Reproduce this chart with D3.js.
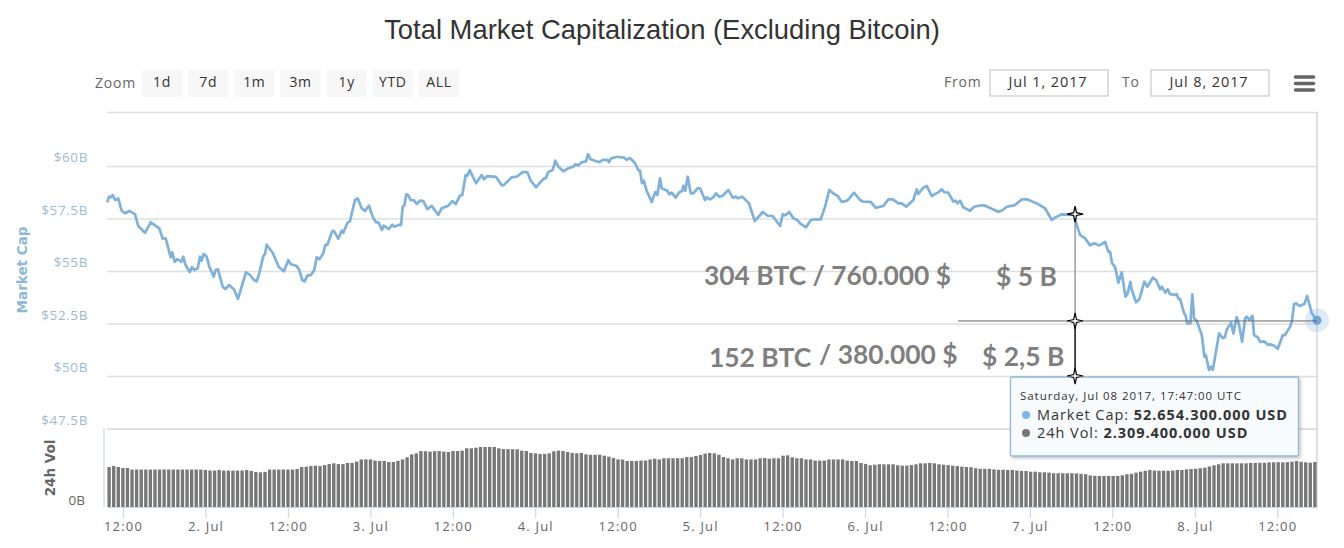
<!DOCTYPE html>
<html>
<head>
<meta charset="utf-8">
<title>Total Market Capitalization (Excluding Bitcoin)</title>
<script src="https://cdn.jsdelivr.net/npm/d3@7"></script>
<style>
  html, body { margin: 0; padding: 0; background: #fff; }
  svg { display: block; }
  text { font-family: "Open Sans", sans-serif; }
  .grid line { stroke: #dfdfdf; stroke-width: 1.3; }
  .grid text { fill: #9dbbd0; font-size: 13.5px; letter-spacing: 0.6px; }
  .xaxis line { stroke: #ccd6eb; stroke-width: 1.2; }
  .xaxis path { stroke: #ccd6eb; stroke-width: 1.2; }
  .xaxis text { fill: #666; font-size: 13px; letter-spacing: 1.2px; }
  .ctrl { fill: #666; font-size: 14px; letter-spacing: 0.8px; }
  .btn { fill: #333; font-size: 14px; letter-spacing: 0.6px; text-anchor: middle; }
  .date { fill: #333; font-size: 14.5px; letter-spacing: 0.9px; text-anchor: middle; }
  .note { fill: #7f7f7f; font-family: Lato, sans-serif; font-weight: 700; font-size: 26.4px; }
  .tip { fill: #333; font-size: 14.5px; letter-spacing: 0.95px; }
</style>
</head>
<body>
<svg id="chart" width="1344" height="548"></svg>
<script>
// hours counted from 1 Jul 2017 00:00 UTC
const capHours = [
  9.71, 9.96, 10.20, 10.49, 10.87, 11.31, 11.80, 12.29, 12.91, 13.74,
  14.22, 15.20, 16.03, 17.28, 17.77, 18.21, 18.94, 19.17, 19.52, 19.90,
  20.48, 20.77, 21.06, 21.70, 22.04, 22.37, 22.87, 23.20, 23.45, 23.74,
  24.18, 24.56, 25.20, 25.49, 25.82, 26.51, 26.89, 27.47, 28.20, 28.73,
  29.90, 30.48, 31.06, 31.46, 31.83, 32.42, 32.66, 32.91, 33.78, 34.70,
  35.43, 36.06, 36.40, 37.28, 37.66, 38.09, 38.44, 38.82, 39.32, 39.84,
  40.19, 40.57, 41.15, 41.44, 41.73, 42.46, 42.71, 43.33, 43.83, 44.06,
  44.64, 45.04, 45.76, 46.16, 46.74, 47.22, 47.80, 48.34, 48.82, 49.21,
  49.69, 49.94, 50.67, 51.19, 51.48, 52.31, 52.46, 52.71, 52.94, 53.23,
  53.48, 53.87, 54.35, 54.75, 55.23, 55.71, 56.29, 56.93, 57.89, 58.38,
  59.34, 59.93, 60.42, 61.05, 61.38, 61.88, 62.11, 62.46, 63.38, 64.21,
  64.54, 65.02, 66.29, 67.12, 67.45, 68.57, 69.30, 70.17, 70.84, 71.34,
  72.11, 73.27, 73.52, 73.90, 74.54, 74.92, 75.36, 76.08, 76.81, 77.54,
  77.83, 78.27, 78.76, 79.39, 79.68, 80.07, 81.32, 81.82, 82.49, 82.74,
  82.98, 83.86, 84.92, 85.31, 85.79, 86.52, 87.00, 87.25, 87.54, 87.79,
  88.22, 88.95, 89.48, 89.77, 90.16, 90.41, 91.22, 91.52, 91.86, 92.44,
  92.97, 93.41, 93.55, 93.84, 94.19, 94.63, 95.00, 95.65, 95.98, 96.71,
  96.96, 97.44, 97.92, 98.31, 98.75, 99.23, 100.10, 100.74, 101.22, 101.47,
  102.14, 103.11, 103.95, 105.11, 105.84, 106.56, 107.63, 108.02, 108.36, 108.98,
  109.56, 110.15, 110.54, 111.41, 112.10, 112.72, 113.55, 114.18, 114.80, 115.49,
  116.03, 116.61, 117.42, 118.40, 119.27, 119.75, 120.83, 121.56, 122.67, 123.39,
  124.03, 124.85, 125.34, 125.97, 127.03, 127.52, 127.76, 128.40, 128.98, 129.71,
  130.82, 131.16, 131.54, 132.12, 132.85, 133.20, 133.43, 133.83, 134.31, 135.28,
  135.86, 136.99, 137.47, 138.19, 139.40, 139.90, 140.62, 141.83, 142.81, 143.63,
  144.99, 146.20, 147.18, 147.66, 148.63, 149.84, 150.42, 150.81, 151.30, 152.02,
  152.75, 153.33, 154.10, 154.93, 155.41, 155.66, 155.95, 156.39, 156.87, 157.36,
  157.89, 158.18, 158.62, 158.82, 159.45, 159.92, 160.65, 161.09, 161.88, 162.36,
  162.94, 163.19, 163.71, 164.06, 164.39, 165.12, 165.37, 165.60, 165.85, 166.43,
  166.68, 166.87, 167.35, 167.64, 167.89, 168.28, 168.66, 169.01, 169.39, 169.59,
  170.07, 170.36, 170.61, 170.95, 171.53, 172.07, 172.36, 172.65, 173.27, 173.61,
  174.10, 174.44, 174.88, 175.32, 175.56, 175.94, 176.38, 176.62, 177.16, 177.50,
  178.08, 178.70, 178.95, 179.53, 180.07, 180.80, 181.13, 181.87, 182.11, 182.45,
  182.74, 183.22, 183.95, 184.34, 185.02, 185.78
];

// market cap in billions of USD
const capValues = [
  58.27, 58.54, 58.51, 58.62, 58.38, 58.46, 57.87, 57.75, 57.86, 57.71,
  57.14, 56.82, 57.32, 57.03, 56.54, 56.56, 55.65, 55.89, 55.44, 55.57,
  55.44, 55.68, 55.32, 54.95, 55.18, 55.05, 55.13, 55.68, 55.49, 55.82,
  55.68, 55.20, 54.73, 55.05, 55.08, 54.25, 54.14, 54.33, 54.10, 53.67,
  54.94, 54.81, 54.57, 54.51, 54.89, 55.71, 55.80, 56.25, 55.87, 55.18,
  54.99, 55.52, 55.33, 55.24, 55.05, 54.57, 54.51, 54.78, 54.80, 55.05,
  55.65, 55.56, 55.84, 56.24, 56.24, 56.90, 56.90, 56.54, 56.92, 56.82,
  57.27, 57.38, 58.38, 58.46, 57.99, 57.86, 58.11, 57.59, 57.32, 57.30,
  56.95, 57.16, 57.00, 57.20, 57.11, 57.22, 57.19, 58.06, 58.11, 58.65,
  58.62, 58.37, 58.37, 58.19, 58.35, 58.33, 57.95, 58.10, 57.67, 57.99,
  58.11, 58.33, 58.19, 58.59, 58.62, 59.57, 59.54, 59.80, 59.18, 59.57,
  59.37, 59.52, 59.48, 59.08, 59.10, 59.46, 59.49, 59.71, 59.71, 59.30,
  58.99, 59.41, 59.41, 59.71, 59.81, 60.25, 59.97, 59.75, 59.89, 59.97,
  60.08, 60.03, 60.18, 60.22, 60.56, 60.32, 60.18, 60.29, 60.29, 60.18,
  60.35, 60.44, 60.40, 60.29, 60.38, 60.13, 59.81, 59.78, 59.18, 59.30,
  58.81, 58.29, 58.76, 58.62, 59.41, 58.94, 58.82, 58.65, 58.73, 58.49,
  58.75, 58.82, 59.06, 58.82, 59.49, 58.70, 58.70, 58.94, 58.94, 58.38,
  58.51, 58.41, 58.51, 58.70, 58.54, 58.57, 58.86, 58.49, 58.54, 58.46,
  58.54, 58.22, 57.38, 57.81, 57.63, 57.62, 57.14, 57.71, 57.65, 57.81,
  57.51, 57.43, 57.27, 57.08, 57.43, 57.46, 57.46, 58.06, 58.86, 58.67,
  58.57, 58.29, 58.35, 58.73, 58.38, 58.30, 58.29, 58.01, 58.10, 58.41,
  58.41, 58.22, 58.22, 58.06, 58.38, 58.89, 58.67, 58.94, 59.05, 58.57,
  58.78, 58.89, 58.75, 58.73, 58.30, 58.35, 58.22, 58.35, 58.03, 57.87,
  58.06, 58.13, 58.11, 58.00, 57.82, 57.87, 58.06, 58.14, 58.41, 58.41,
  58.22, 57.99, 57.43, 57.54, 57.70, 57.67, 57.67, 57.19, 56.71, 56.56,
  56.22, 56.32, 56.22, 56.38, 55.92, 55.92, 55.37, 55.20, 54.44, 54.94,
  53.78, 53.90, 54.49, 54.10, 53.51, 53.65, 54.49, 54.25, 54.68, 54.57,
  54.13, 54.25, 53.97, 54.13, 53.90, 53.86, 53.90, 53.67, 53.67, 52.99,
  52.87, 52.51, 52.51, 53.89, 52.75, 52.63, 52.27, 51.95, 50.92, 51.00,
  50.29, 50.44, 50.29, 50.92, 52.03, 51.80, 51.84, 52.22, 52.54, 52.03,
  52.80, 52.43, 51.63, 52.75, 52.82, 52.67, 52.86, 51.95, 51.84, 51.62,
  51.65, 51.48, 51.51, 51.44, 51.30, 51.95, 51.95, 52.35, 52.59, 53.43,
  53.46, 53.33, 53.43, 53.81, 52.99, 52.654
];

// 24h volume in billions of USD, one value per bar
const volValues = [
  2.05, 2.10, 2.05, 2.00, 2.00, 1.92, 1.92, 1.92, 1.92, 1.92, 1.92, 1.92, 1.92, 1.92, 1.92, 1.92,
  1.92, 1.92, 1.92, 1.92, 1.92, 1.90, 1.87, 1.87, 1.90, 1.87, 1.87, 1.87, 1.87, 1.87, 1.90, 1.85,
  1.80, 1.78, 1.80, 1.92, 1.92, 1.92, 1.92, 1.92, 1.92, 1.95, 2.05, 2.07, 2.10, 2.12, 2.10, 2.15,
  2.20, 2.24, 2.20, 2.20, 2.26, 2.26, 2.33, 2.44, 2.44, 2.44, 2.38, 2.36, 2.36, 2.31, 2.31, 2.36,
  2.44, 2.55, 2.70, 2.75, 2.87, 2.86, 2.84, 2.86, 2.87, 2.84, 2.82, 2.87, 2.87, 2.89, 3.01, 3.01,
  3.04, 3.08, 3.08, 3.08, 3.08, 3.01, 2.97, 2.97, 2.96, 2.96, 2.89, 2.87, 2.77, 2.75, 2.72, 2.72,
  2.75, 2.86, 2.89, 2.87, 2.82, 2.77, 2.75, 2.77, 2.70, 2.68, 2.68, 2.68, 2.63, 2.58, 2.51, 2.44,
  2.43, 2.36, 2.36, 2.36, 2.38, 2.38, 2.44, 2.48, 2.44, 2.50, 2.50, 2.50, 2.50, 2.50, 2.56, 2.56,
  2.62, 2.67, 2.74, 2.77, 2.75, 2.68, 2.56, 2.50, 2.44, 2.50, 2.50, 2.44, 2.44, 2.44, 2.50, 2.51,
  2.48, 2.50, 2.50, 2.63, 2.65, 2.55, 2.50, 2.50, 2.44, 2.44, 2.38, 2.38, 2.38, 2.44, 2.44, 2.44,
  2.44, 2.38, 2.36, 2.36, 2.26, 2.21, 2.14, 2.17, 2.19, 2.19, 2.19, 2.19, 2.14, 2.12, 2.12, 2.15,
  2.19, 2.24, 2.24, 2.26, 2.24, 2.19, 2.17, 2.15, 2.12, 2.10, 2.07, 2.05, 2.04, 1.99, 1.96, 1.96,
  1.96, 1.93, 1.91, 1.91, 1.90, 1.90, 1.87, 1.85, 1.85, 1.81, 1.81, 1.78, 1.78, 1.76, 1.73, 1.73,
  1.73, 1.73, 1.73, 1.72, 1.70, 1.68, 1.62, 1.60, 1.59, 1.59, 1.59, 1.59, 1.59, 1.63, 1.68, 1.70,
  1.76, 1.81, 1.86, 1.90, 1.87, 1.86, 1.86, 1.86, 1.87, 1.90, 1.90, 1.93, 1.95, 1.96, 1.99, 2.02,
  2.08, 2.14, 2.19, 2.24, 2.24, 2.24, 2.24, 2.24, 2.24, 2.26, 2.26, 2.27, 2.27, 2.29, 2.29, 2.30,
  2.29, 2.30, 2.32, 2.36, 2.32, 2.29, 2.27, 2.31
];

const capTicks = [47.5, 50, 52.5, 55, 57.5, 60];
const capTickLabels = ["$47.5B", "$50B", "$52.5B", "$55B", "$57.5B", "$60B"];
const xTicks = [12, 24, 36, 48, 60, 72, 84, 96, 108, 120, 132, 144, 156, 168, 180];
const xTickLabels = ["12:00", "2. Jul", "12:00", "3. Jul", "12:00", "4. Jul", "12:00", "5. Jul",
  "12:00", "6. Jul", "12:00", "7. Jul", "12:00", "8. Jul", "12:00"];
const zoomButtons = ["1d", "7d", "1m", "3m", "1y", "YTD", "ALL"];

// hand-drawn measuring marks on the picture: hour, market cap
const measureHour = 150.57;
const measureValues = [57.71, 52.62, 50];
const measureLevelFrom = 133.54;
const lastHour = 185.78;
const lastCap = 52.654;

const svg = d3.select("#chart");

const x = d3.scaleLinear().domain([9.67, lastHour]).range([107, 1317]);
const y = d3.scaleLinear().domain([47.5, 62.5]).range([428.5, 113.5]);
const yVol = d3.scaleLinear().domain([0, 4]).range([507, 429]);
const xBar = d3.scaleBand().domain(d3.range(volValues.length)).range([107, 1317]).paddingInner(0.27).paddingOuter(0.1);

svg.append("text")
  .attr("x", 662).attr("y", 39)
  .attr("text-anchor", "middle")
  .style("font-family", "'Liberation Sans', Arial, sans-serif")
  .style("font-size", "27.4px")
  .attr("fill", "#333")
  .text("Total Market Capitalization (Excluding Bitcoin)");

// range selector
svg.append("text").attr("class", "ctrl").attr("x", 95).attr("y", 88).text("Zoom");
const btnX = d3.scalePoint().domain(zoomButtons).range([142, 419]);
const btn = svg.selectAll("g.zoombtn").data(zoomButtons).join("g").attr("class", "zoombtn")
  .attr("transform", d => `translate(${btnX(d)},70)`);
btn.append("rect").attr("width", 40).attr("height", 27).attr("fill", "#f7f7f7");
btn.append("text").attr("class", "btn").attr("x", 20).attr("y", 17).text(d => d);

// date inputs
svg.append("text").attr("class", "ctrl").attr("x", 944).attr("y", 87).text("From");
svg.append("text").attr("class", "ctrl").attr("x", 1122).attr("y", 87).text("To");
[[990, "Jul 1, 2017"], [1151, "Jul 8, 2017"]].forEach(([left, label]) => {
  svg.append("rect").attr("x", left).attr("y", 70).attr("width", 118).attr("height", 26)
    .attr("fill", "#fff").attr("stroke", "#ccc").attr("stroke-width", 1.3);
  svg.append("text").attr("class", "date").attr("x", left + 58).attr("y", 87).text(label);
});

// hamburger menu
[77, 83.5, 90].forEach(top => {
  svg.append("line").attr("x1", 1295.5).attr("x2", 1313.5).attr("y1", top).attr("y2", top)
    .attr("stroke", "#666").attr("stroke-width", 3.6).attr("stroke-linecap", "round");
});

// plot frame
svg.append("line").attr("x1", 107).attr("x2", 1318).attr("y1", 112.5).attr("y2", 112.5).attr("stroke", "#dfdfdf").attr("stroke-width", 1.3);
svg.append("line").attr("x1", 1317).attr("x2", 1317).attr("y1", 112).attr("y2", 507).attr("stroke", "#ccc").attr("stroke-width", 1.2);
svg.append("line").attr("x1", 104).attr("x2", 104).attr("y1", 428).attr("y2", 507).attr("stroke", "#ccd6eb").attr("stroke-width", 1.2);

const grid = svg.append("g").attr("class", "grid").attr("transform", "translate(107,0)")
  .call(d3.axisLeft(y).tickValues(capTicks).tickSize(-1211).tickPadding(19)
    .tickFormat((d, i) => capTickLabels[i]));
grid.select(".domain").remove();
grid.selectAll("text").attr("dy", "-0.3em");
grid.selectAll(".tick").filter(d => d === 47.5).select("line").style("stroke-width", 2.2);

// volume bars
svg.selectAll("rect.vol").data(volValues).join("rect").attr("class", "vol")
  .attr("x", (d, i) => xBar(i))
  .attr("width", xBar.bandwidth())
  .attr("y", d => yVol(d))
  .attr("height", d => yVol(0) - yVol(d))
  .attr("fill", "#777");

const xAxis = svg.append("g").attr("class", "xaxis").attr("transform", "translate(0,507)")
  .call(d3.axisBottom(x).tickValues(xTicks).tickSize(11).tickSizeOuter(0).tickPadding(4)
    .tickFormat((d, i) => xTickLabels[i]));

// market cap line
const line = d3.line().x((d, i) => x(capHours[i])).y(d => y(d)).curve(d3.curveLinear);
svg.append("path").datum(capValues)
  .attr("fill", "none").attr("stroke", "#7fb1d9").attr("stroke-width", 2.7).attr("stroke-linejoin", "round")
  .attr("d", line);

// hover marker
svg.append("circle").attr("cx", x(lastHour)).attr("cy", y(lastCap)).attr("r", 12).attr("fill", "#7cb5ec").attr("opacity", 0.25);
svg.append("circle").attr("cx", x(lastHour)).attr("cy", y(lastCap)).attr("r", 4.5).attr("fill", "#6ea6da");

// notes written over the chart
const notes = [
  [704, 285, "304 BTC / 760.000 $"],
  [996, 286, "$ 5 B"],
  [709, 367, "152 BTC"],
  [819, 364, "/ 380.000 $"],
  [982, 366, "$ 2,5 B"]
];
svg.selectAll("text.note").data(notes).join("text").attr("class", "note")
  .attr("x", d => d[0]).attr("y", d => d[1]).text(d => d[2]);

// tooltip
const defs = svg.append("defs");
const shadow = defs.append("filter").attr("id", "tipShadow").attr("x", "-5%").attr("y", "-5%").attr("width", "112%").attr("height", "115%");
shadow.append("feDropShadow").attr("dx", 1.5).attr("dy", 1.5).attr("stdDeviation", 1.5).attr("flood-color", "#000").attr("flood-opacity", 0.25);

svg.append("rect").attr("x", 1010.5).attr("y", 377).attr("width", 288).attr("height", 79).attr("rx", 1.5)
  .attr("fill", "#f8fbfe").attr("stroke", "#8fb8dc").attr("stroke-width", 1.3).attr("filter", "url(#tipShadow)");
svg.append("text").attr("class", "tip").attr("x", 1020).attr("y", 400).style("font-size", "11.5px")
  .text("Saturday, Jul 08 2017, 17:47:00 UTC");
svg.append("circle").attr("cx", 1026).attr("cy", 415).attr("r", 4).attr("fill", "#7cb5ec");
svg.append("circle").attr("cx", 1026).attr("cy", 433).attr("r", 4).attr("fill", "#777");
const tip1 = svg.append("text").attr("class", "tip").attr("x", 1037).attr("y", 420);
tip1.append("tspan").text("Market Cap: ");
tip1.append("tspan").style("font-weight", 700).text("52.654.300.000 USD");
const tip2 = svg.append("text").attr("class", "tip").attr("x", 1037).attr("y", 438);
tip2.append("tspan").text("24h Vol: ");
tip2.append("tspan").style("font-weight", 700).text("2.309.400.000 USD");

// measuring lines, stars sit on top of the tooltip
svg.append("line").attr("x1", x(measureLevelFrom)).attr("x2", x(lastHour))
  .attr("y1", y(measureValues[1])).attr("y2", y(measureValues[1]))
  .attr("stroke", "#666").attr("stroke-width", 1);
svg.append("line").attr("x1", x(measureHour)).attr("x2", x(measureHour))
  .attr("y1", y(measureValues[0])).attr("y2", y(measureValues[1]))
  .attr("stroke", "#777").attr("stroke-width", 1.1);
svg.append("line").attr("x1", x(measureHour)).attr("x2", x(measureHour))
  .attr("y1", y(measureValues[1])).attr("y2", y(measureValues[2]))
  .attr("stroke", "#000").attr("stroke-width", 1.4);

const star = d3.lineRadial().angle((d, i) => i * Math.PI / 4).radius(d => d).curve(d3.curveLinearClosed);
svg.selectAll("path.star").data(measureValues).join("path").attr("class", "star")
  .attr("transform", d => `translate(${x(measureHour)},${y(d)})`)
  .attr("d", star([8, 2, 8, 2, 8, 2, 8, 2]))
  .attr("fill", "#fff").attr("stroke", "#000").attr("stroke-width", 1.2);

// axis titles
svg.append("text").attr("transform", "translate(27,270) rotate(-90)")
  .attr("text-anchor", "middle").attr("fill", "#8ab8d8")
  .style("font-family", "'DejaVu Sans', sans-serif").style("font-weight", 700).style("font-size", "13.5px")
  .text("Market Cap");
svg.append("text").attr("transform", "translate(55,468) rotate(-90)")
  .attr("text-anchor", "middle").attr("fill", "#666")
  .style("font-family", "'DejaVu Sans', sans-serif").style("font-weight", 700).style("font-size", "13.5px")
  .text("24h Vol");
svg.append("text").attr("x", 85).attr("y", 505).attr("text-anchor", "end")
  .attr("fill", "#666").style("font-size", "13.5px").text("0B");
</script>
</body>
</html>
